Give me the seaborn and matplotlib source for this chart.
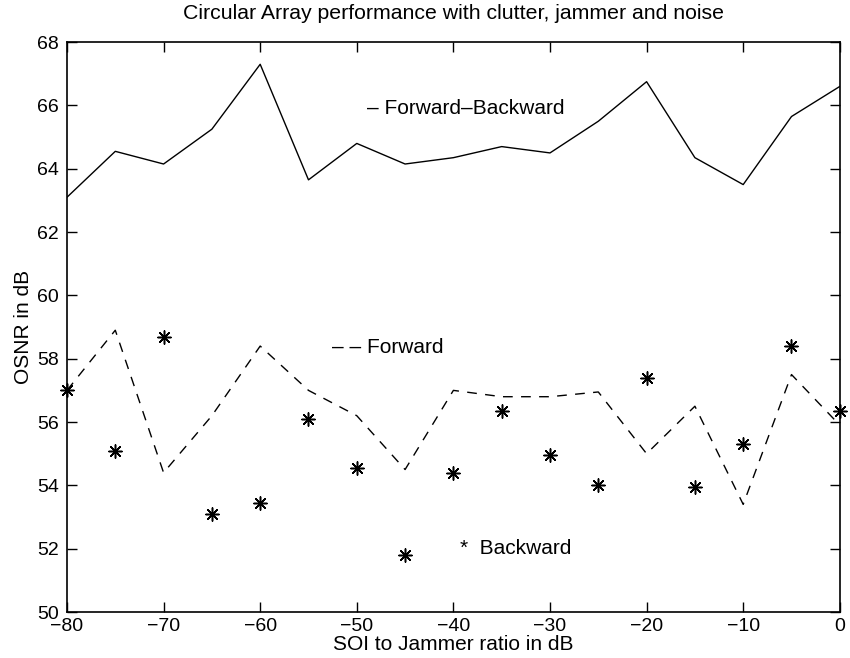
import matplotlib
matplotlib.use("Agg")
import matplotlib.pyplot as plt
import seaborn as sns
import pandas as pd

sjr = [-80, -75, -70, -65, -60, -55, -50, -45, -40, -35, -30, -25, -20, -15, -10, -5, 0]
fb = [63.1, 64.55, 64.15, 65.25, 67.3, 63.65, 64.8, 64.15, 64.35, 64.7, 64.5, 65.5, 66.75, 64.35, 63.5, 65.65, 66.6]
fwd = [57.0, 58.9, 54.4, 56.2, 58.4, 57.0, 56.2, 54.5, 57.0, 56.8, 56.8, 56.95, 55.0, 56.5, 53.4, 57.5, 55.9]
bwd = [57.0, 55.1, 58.7, 53.1, 53.45, 56.1, 54.55, 51.8, 54.4, 56.35, 54.95, 54.0, 57.4, 53.95, 55.3, 58.4, 56.35]
xticks = [-80, -70, -60, -50, -40, -30, -20, -10, 0]
yticks = [50, 52, 54, 56, 58, 60, 62, 64, 66, 68]

df = pd.DataFrame({"sjr": sjr, "fb": fb, "fwd": fwd, "bwd": bwd})

sns.set_theme(style="white")
plt.rcParams['font.family'] = ['Liberation Sans', 'DejaVu Sans']
plt.rcParams['text.color'] = 'black'
plt.rcParams['axes.labelcolor'] = 'black'

fig = plt.figure(figsize=(8.5, 6.58), dpi=100)
ax = fig.add_axes([0.0788, 0.0699, 0.9092, 0.8661])

sns.lineplot(data=df, x="sjr", y="fb", ax=ax, color="black", linewidth=1.0)
sns.lineplot(data=df, x="sjr", y="fwd", ax=ax, color="black", linewidth=1.0)
ax.lines[-1].set_dashes([7, 6])
sns.scatterplot(data=df, x="sjr", y="bwd", ax=ax, color="black",
                marker=(8, 2, 0), s=90, linewidth=1.1, clip_on=False, zorder=5)

ax.text(-48.9, 65.9, "\u2013 Forward\u2013Backward", fontsize=15, va="center", ha="left")
ax.text(-52.6, 58.35, "\u2013 \u2013 Forward", fontsize=15, va="center", ha="left")
ax.text(-39.3, 52.0, "*  Backward", fontsize=15, va="center", ha="left")

ax.set_xlim(-80, 0)
ax.set_ylim(50, 68)
ax.set_xticks(xticks)
ax.set_yticks(yticks)
ax.set_xticklabels([str(t).replace('-', '\u2212') for t in xticks])
ax.tick_params(direction="in", length=7, width=1, labelsize=14, colors="black",
               top=True, right=True, bottom=True, left=True)
ax.tick_params(axis="x", pad=4)
ax.tick_params(axis="y", pad=6)
for s in ax.spines.values():
    s.set_color("black")
    s.set_linewidth(1.2)
    s.set_visible(True)

ax.set_xlabel("SOI to Jammer ratio in dB", fontsize=15, labelpad=0)
ax.set_ylabel("OSNR in dB", fontsize=15, labelpad=3)
ax.set_title("Circular Array performance with clutter, jammer and noise", fontsize=15.3, pad=17)

fig.savefig("out.png", dpi=100)
